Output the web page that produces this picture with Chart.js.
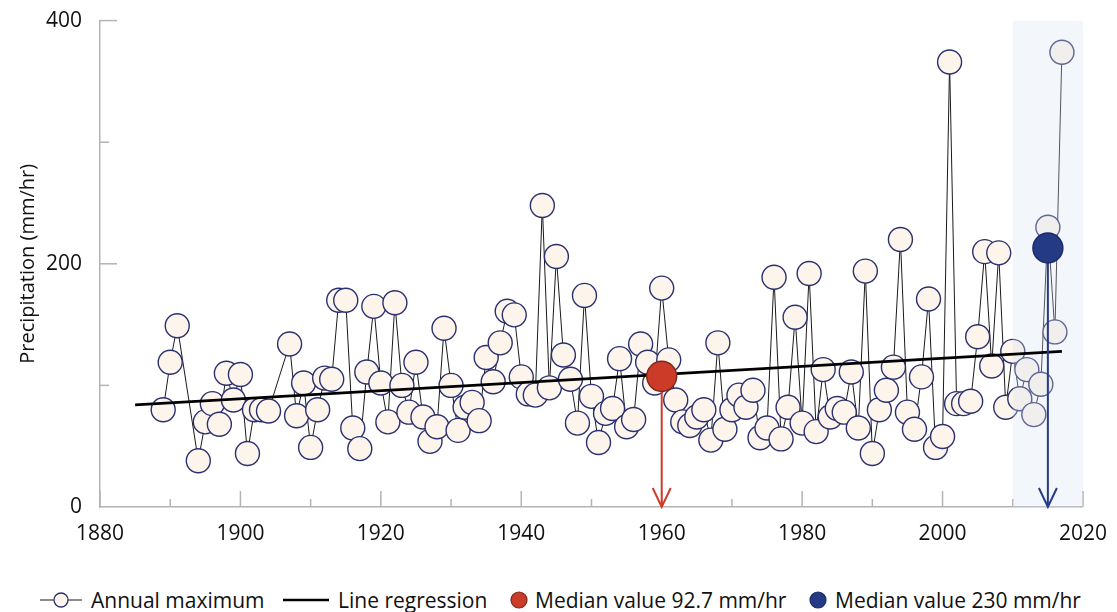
<!DOCTYPE html>
<html>
<head>
<meta charset="utf-8">
<script src="https://cdn.jsdelivr.net/npm/chart.js@4.4.1/dist/chart.umd.min.js"></script>
<style>
  html, body { margin: 0; padding: 0; background: #fff; }
  body { width: 1117px; height: 612px; overflow: hidden; font-family: "Open Sans", sans-serif; color: #111; position: relative; }
  #wrap { position: absolute; left: 0; top: -10px; width: 1121px; height: 585px; }
  #legend { position: absolute; left: 0; top: 588px; width: 1117px; height: 26px; font-size: 21px; line-height: 24px; }
  .item { position: absolute; top: 0; display: flex; align-items: center; white-space: nowrap; }
  .item svg { display: block; margin-right: 9px; }
</style>
</head>
<body>
<div id="wrap"><canvas id="precipChart"></canvas></div>
<div id="legend">
  <span class="item" style="left:40px"><svg width="42" height="20"><line x1="0" y1="10" x2="42" y2="10" stroke="#1a1a1a" stroke-width="1.2"/><circle cx="21" cy="10" r="7" fill="#fdf5ec" stroke="#2b3170" stroke-width="1.3"/></svg>Annual maximum</span>
  <span class="item" style="left:283px"><svg width="46" height="20"><line x1="0" y1="10" x2="46" y2="10" stroke="#000" stroke-width="2.5"/></svg>Line regression</span>
  <span class="item" style="left:510px"><svg width="18" height="20" style="margin-right:7px"><circle cx="9" cy="10" r="8" fill="#cc3a28" stroke="#7a2a1c" stroke-width="1.2"/></svg>Median value 92.7 mm/hr</span>
  <span class="item" style="left:809px"><svg width="18" height="20" style="margin-right:8px"><circle cx="9" cy="10" r="8" fill="#243a85" stroke="#1b2a66" stroke-width="1.2"/></svg>Median value 230 mm/hr</span>
</div>
<script>
// annual maximum precipitation
const years = [1889, 1890, 1891, 1894, 1895, 1896, 1897, 1898, 1899, 1900, 1901, 1902, 1903, 1904,
  1907, 1908, 1909, 1910, 1911, 1912, 1913, 1914, 1915, 1916, 1917, 1918, 1919, 1920,
  1921, 1922, 1923, 1924, 1925, 1926, 1927, 1928, 1929, 1930, 1931, 1932, 1933, 1934, 1935, 1936, 1937, 1938, 1939, 1940,
  1941, 1942, 1943, 1944, 1945, 1946, 1947, 1948, 1949, 1950, 1951, 1952, 1953, 1954, 1955, 1956, 1957, 1958, 1959, 1960,
  1961, 1962, 1963, 1964, 1965, 1966, 1967, 1968, 1969, 1970, 1971, 1972, 1973, 1974, 1975, 1976, 1977, 1978, 1979, 1980,
  1981, 1982, 1983, 1984, 1985, 1986, 1987, 1988, 1989, 1990, 1991, 1992, 1993, 1994, 1995, 1996, 1997, 1998, 1999, 2000,
  2001, 2002, 2003, 2004, 2005, 2006, 2007, 2008, 2009, 2010, 2011, 2012, 2013, 2014, 2015, 2016, 2017];
const annualMax = [80, 119, 149, 38, 70, 85, 68, 110, 88, 109, 44, 80, 80, 79,
  134, 75, 102, 49, 80, 106, 105, 170, 170, 65, 48, 111, 165, 102,
  70, 168, 100, 78, 119, 74, 54, 66, 147, 100, 63, 82, 86, 71, 123, 103, 135, 161, 158, 107,
  93, 92, 248, 98, 206, 125, 105, 69, 174, 91, 53, 77, 81, 122, 66, 72, 134, 119, 102, 180,
  121, 88, 70, 67, 74, 80, 55, 135, 64, 80, 92, 82, 96, 57, 65, 189, 56, 82, 156, 69,
  192, 62, 113, 74, 81, 78, 111, 65, 194, 44, 80, 96, 115, 220, 78, 64, 107, 171, 49, 58,
  366, 85, 85, 87, 140, 210, 116, 209, 82, 128, 89, 113, 76, 101, 230, 144, 374];

const regYears = [1885, 2017];
const regValues = [84, 128];

const medianYears = [1960, 2015];
const medianValues = [107.5, 213];

const shadeYears = [2010, 2020];

const xTickYears = [1880, 1890, 1900, 1910, 1920, 1930, 1940, 1950, 1960, 1970, 1980, 1990, 2000, 2010, 2020];
const yTickValues = [100, 200, 300, 400];

const FONT = 'Open Sans';

// shading over the last decade, arrows under the median dots, ticks inside the axes
const decor = {
  id: 'decor',
  beforeDatasetsDraw(chart) {
    const {ctx, scales: {x, y}} = chart;
    ctx.save();
    ctx.strokeStyle = '#b3b3b3';
    ctx.lineWidth = 1.5;
    const base = y.getPixelForValue(0);
    xTickYears.forEach(yr => {
      const px = x.getPixelForValue(yr);
      const len = yr % 20 === 0 ? 16 : 8;
      ctx.beginPath(); ctx.moveTo(px, base); ctx.lineTo(px, base - len); ctx.stroke();
    });
    const left = x.getPixelForValue(1880);
    yTickValues.forEach(v => {
      const py = y.getPixelForValue(v);
      const len = v % 200 === 0 ? 17 : 9;
      ctx.beginPath(); ctx.moveTo(left, py); ctx.lineTo(left + len, py); ctx.stroke();
    });
    ctx.restore();
  },
  afterDatasetDraw(chart, args) {
    const {ctx, chartArea: a, scales: {x, y}} = chart;
    if (args.index === 0) {
      const x0 = x.getPixelForValue(shadeYears[0]);
      const x1 = x.getPixelForValue(shadeYears[1]);
      ctx.save();
      ctx.fillStyle = 'rgba(215,225,238,0.3)';
      ctx.fillRect(x0, a.top, x1 - x0, a.bottom - a.top);
      ctx.restore();
    }
    if (args.index === 1) {
      const colors = ['#d03c2a', '#263b86'];
      medianYears.forEach((yr, i) => {
        const px = x.getPixelForValue(yr);
        const py = y.getPixelForValue(medianValues[i]);
        const bottom = y.getPixelForValue(0);
        ctx.save();
        ctx.strokeStyle = colors[i];
        ctx.lineWidth = 2;
        ctx.beginPath();
        ctx.moveTo(px, py); ctx.lineTo(px, bottom);
        ctx.moveTo(px - 9, bottom - 19); ctx.lineTo(px, bottom); ctx.lineTo(px + 9, bottom - 19);
        ctx.stroke();
        ctx.restore();
      });
    }
  }
};

const ctx = document.getElementById('precipChart').getContext('2d');
const chart = new Chart(ctx, {
  type: 'line',
  data: {
    datasets: [{
      label: 'Annual maximum',
      data: years.map((yr, i) => ({x: yr, y: annualMax[i]})),
      borderColor: '#1a1a1a',
      borderWidth: 1,
      tension: 0,
      pointRadius: 12,
      pointBackgroundColor: '#fdf5ec',
      pointBorderColor: '#2b3170',
      pointBorderWidth: 1.4,
      clip: false,
      order: 4
    }, {
      label: 'Line regression',
      data: regYears.map((yr, i) => ({x: yr, y: regValues[i]})),
      borderColor: '#000',
      borderWidth: 2.6,
      pointRadius: 0,
      order: 3
    }, {
      label: 'Median value 92.7 mm/hr',
      data: [{x: medianYears[0], y: medianValues[0]}],
      showLine: false,
      pointRadius: 15,
      pointBackgroundColor: '#cc3a28',
      pointBorderColor: '#7a2a1c',
      pointBorderWidth: 1.4,
      clip: false,
      order: 2
    }, {
      label: 'Median value 230 mm/hr',
      data: [{x: medianYears[1], y: medianValues[1]}],
      showLine: false,
      pointRadius: 15,
      pointBackgroundColor: '#243a85',
      pointBorderColor: '#1b2a66',
      pointBorderWidth: 1.4,
      clip: false,
      order: 1
    }]
  },
  options: {
    animation: false,
    responsive: true,
    maintainAspectRatio: false,
    events: [],
    layout: { autoPadding: false, padding: { top: 8, right: 31, left: 0, bottom: 0 } },
    plugins: {
      legend: { display: false },
      tooltip: { enabled: false }
    },
    scales: {
      x: {
        type: 'linear',
        min: 1880,
        max: 2020,
        afterFit(scale) { scale.height = 68; },
        grid: { display: false, drawTicks: false },
        border: { display: true, color: '#b3b3b3', width: 1.5 },
        ticks: {
          stepSize: 20,
          padding: 14,
          color: '#111',
          font: { family: FONT, size: 21 },
          callback: v => String(v)
        }
      },
      y: {
        min: 0,
        max: 400,
        afterFit(scale) { scale.width = 100; },
        grid: { display: false, drawTicks: false },
        border: { display: true, color: '#b3b3b3', width: 1.5 },
        ticks: {
          stepSize: 200,
          padding: 18,
          color: '#111',
          font: { family: FONT, size: 21 }
        },
        title: {
          display: true,
          text: 'Precipitation (mm/hr)',
          color: '#111',
          font: { family: FONT, size: 20 },
          padding: { top: 16, bottom: 0 }
        }
      }
    }
  },
  plugins: [decor]
});
</script>
</body>
</html>
